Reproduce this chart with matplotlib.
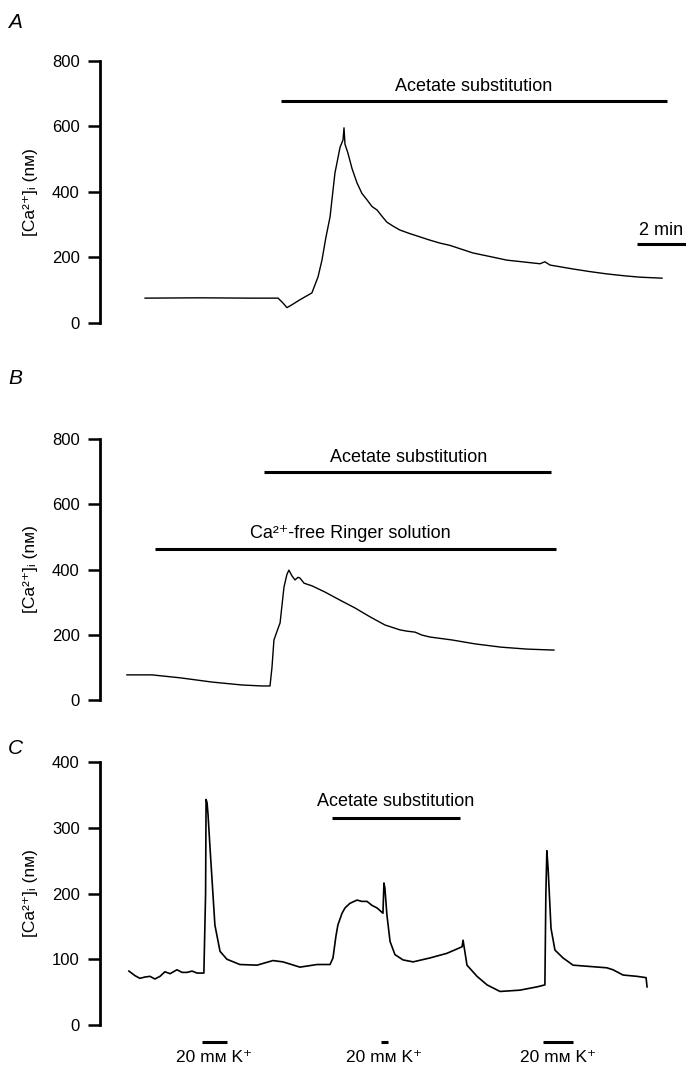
import numpy as np
import matplotlib.pyplot as plt

plt.rcParams['font.family'] = ['Liberation Sans', 'DejaVu Sans']

# time (min, from the y axis) and [Ca2+]i (nM)
time_a = [1.84, 4.08, 6.12, 7.27, 7.47, 7.63, 7.84, 8.16, 8.65, 8.90, 9.06, 9.22,
          9.39, 9.59, 9.80, 9.92, 9.96, 10.00, 10.12, 10.29, 10.49, 10.69, 10.90,
          11.10, 11.31, 11.51, 11.71, 11.96, 12.24, 12.65, 13.06, 13.47, 13.88,
          14.29, 14.61, 15.22, 15.92, 16.61, 17.35, 17.96, 18.16, 18.37, 19.31,
          20.00, 20.69, 21.43, 22.04, 22.94]
ca_a = [75, 76, 75, 75, 60, 46, 55, 70, 91, 140, 191, 260,
        323, 457, 536, 558, 595, 545, 518, 470, 427, 395, 375,
        355, 344, 325, 307, 295, 283, 272, 262, 252, 243,
        236, 228, 213, 202, 191, 185, 180, 186, 176, 164,
        156, 149, 143, 139, 136]

time_b = [1.10, 2.12, 3.27, 4.57, 5.80, 6.61, 6.94, 7.02, 7.10, 7.27, 7.35, 7.51,
          7.63, 7.71, 7.84, 7.96, 8.08, 8.16, 8.33, 8.65, 9.18, 9.80, 10.41,
          11.02, 11.63, 12.24, 12.53, 12.86, 13.14, 13.47, 14.37, 15.31, 16.37,
          17.43, 18.53]
ca_b = [77, 77, 68, 55, 46, 43, 43, 100, 184, 220, 236, 346,
        385, 398, 380, 368, 376, 374, 358, 350, 331, 306, 282,
        255, 230, 215, 211, 208, 199, 193, 184, 172, 162,
        156, 153]

time_c = [1.18, 1.43, 1.63, 1.84, 2.04, 2.24, 2.45, 2.65, 2.86, 3.14, 3.35, 3.55,
          3.76, 3.96, 4.24, 4.31, 4.33, 4.37, 4.41, 4.49, 4.57, 4.69, 4.90, 5.18,
          5.71, 6.41, 7.06, 7.47, 8.16, 8.86, 9.39, 9.51, 9.63, 9.71, 9.88, 10.00,
          10.20, 10.49, 10.69, 10.90, 11.10, 11.31, 11.55, 11.59, 11.63, 11.71,
          11.84, 12.04, 12.37, 12.78, 13.47, 14.16, 14.78, 14.82, 14.98, 15.39,
          15.80, 16.33, 17.14, 17.84, 18.16, 18.20, 18.24, 18.29, 18.41, 18.57,
          18.90, 19.31, 20.00, 20.69, 20.94, 21.35, 21.92, 22.29, 22.33]
ca_c = [82, 75, 71, 73, 74, 70, 74, 81, 78, 84, 80, 80,
        82, 79, 79, 200, 343, 338, 320, 270, 223, 152, 112, 100,
        92, 91, 98, 96, 88, 92, 92, 102, 135, 152, 170, 178,
        185, 190, 188, 188, 182, 178, 170, 216, 208, 168,
        127, 107, 99, 96, 102, 109, 119, 129, 91, 74,
        61, 51, 53, 58, 61, 200, 265, 239, 147, 114,
        102, 91, 89, 87, 84, 76, 74, 72, 58]

acetate_a = (7.39, 23.14)
acetate_b = (6.69, 18.41)
ca_free_b = (2.24, 18.61)
acetate_c = (9.47, 14.69)
k_pulses = [(4.16, 5.18), (11.47, 11.76), (18.08, 19.31)]
scale_bar = (21.92, 23.92)  # 2 min

XMAX = 23.92
ylabel = '[Ca²⁺]ᵢ (nᴍ)'


def setup(ax, ymax, step):
    for s in ['top', 'right', 'bottom']:
        ax.spines[s].set_visible(False)
    ax.spines['left'].set_linewidth(2)
    ax.set_xlim(0, XMAX)
    ax.set_ylim(0, ymax)
    ax.set_yticks(np.arange(0, ymax + 1, step))
    ax.set_xticks([])
    ax.tick_params(axis='y', length=8.5, width=1.8, pad=6, labelsize=12)
    ax.set_ylabel(ylabel, fontsize=12.5)
    ax.yaxis.set_label_coords(-0.105, 0.5)


def bar(ax, span, y, lw=2.2):
    ax.plot(span, [y, y], color='black', lw=lw, solid_capstyle='butt', clip_on=False)


fig = plt.figure(figsize=(6.86, 10.66), dpi=100)
left, width = 100 / 686, 586 / 686

# A
ax = fig.add_axes([left, 1 - 322.7 / 1066, width, 262 / 1066])
setup(ax, 800, 200)
ax.plot(time_a, ca_a, color='black', lw=1.0)
bar(ax, acetate_a, 677)
ax.text(np.mean(acetate_a), 722, 'Acetate substitution', ha='center', va='center', fontsize=13)
bar(ax, scale_bar, 240)
ax.text(np.mean(scale_bar), 282, '2 min', ha='center', va='center', fontsize=13)

# B
ax = fig.add_axes([left, 1 - 700 / 1066, width, 261 / 1066])
setup(ax, 800, 200)
ax.plot(time_b, ca_b, color='black', lw=1.0)
bar(ax, acetate_b, 699)
ax.text(12.61, 742, 'Acetate substitution', ha='center', va='center', fontsize=13)
bar(ax, ca_free_b, 463)
ax.text(10.2, 509, 'Ca²⁺-free Ringer solution', ha='center', va='center', fontsize=13)

# C
ax = fig.add_axes([left, 1 - 1025 / 1066, width, 263 / 1066])
setup(ax, 400, 100)
ax.plot(time_c, ca_c, color='black', lw=1.2)
bar(ax, acetate_c, 315)
ax.text(np.mean(acetate_c), 340, 'Acetate substitution', ha='center', va='center', fontsize=13)
for span in k_pulses:
    bar(ax, span, -26)
    ax.text(np.mean(span), -50, '20 mᴍ K⁺', ha='center', va='center', fontsize=12.5)

for lab, y in [('A', 22), ('B', 378), ('C', 748)]:
    fig.text(8 / 686, 1 - y / 1066, lab, fontsize=15, style='italic', va='center', ha='left')

fig.savefig('out.png', dpi=100)
